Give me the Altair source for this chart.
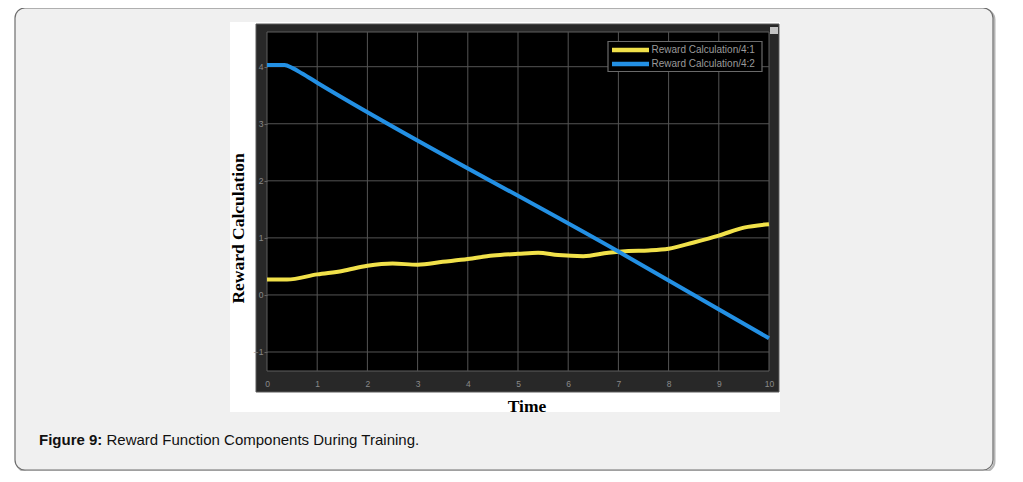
import altair as alt
import pandas as pd

# ---- data ----
series_names = ["Reward Calculation/4:1", "Reward Calculation/4:2"]
series_colors = ["#f1e14a", "#2390e4"]

time_41 = [0, 0.4, 1, 1.5, 2, 2.5, 3, 3.5, 4, 4.5, 5, 5.4, 5.8, 6.3, 6.8, 7.2, 7.6, 8, 8.5, 9, 9.5, 10]
reward_41 = [0.27, 0.27, 0.36, 0.42, 0.51, 0.55, 0.53, 0.58, 0.63, 0.69, 0.72, 0.74, 0.70, 0.68,
             0.74, 0.77, 0.78, 0.81, 0.92, 1.04, 1.18, 1.24]

time_42 = [0, 0.35, 0.5, 0.7, 1, 7, 10]
reward_42 = [4.03, 4.03, 3.98, 3.88, 3.72, 0.76, -0.76]

x_ticks = [0, 1, 2, 3, 4, 5, 6, 7, 8, 9, 10]
y_ticks = [-1, 0, 1, 2, 3, 4]

x_title = "Time"
y_title = "Reward Calculation"
caption_bold = "Figure 9:"
caption_rest = "Reward Function Components During Training."

# ---- layout ----
W, H = 502, 339
x_scale = alt.Scale(domain=[0, 10], nice=False, zero=False)
y_scale = alt.Scale(domain=[-1.333, 4.608], nice=False, zero=False)

x_axis = alt.Axis(values=x_ticks, grid=False, domain=False, ticks=False, labelColor="#8a8a8a",
                  labelFontSize=8.5, labelFont="Liberation Sans", labelPadding=8, title=None,
                  zindex=1, labelFlush=False)
y_axis = alt.Axis(values=y_ticks, grid=False, domain=False, ticks=True, tickSize=3,
                  tickColor="#666666", labelColor="#8a8a8a", labelFontSize=8.5,
                  labelFont="Liberation Sans", labelPadding=1, title=None, zindex=1)

lines_df = pd.DataFrame({
    "time": time_41 + time_42,
    "reward": reward_41 + reward_42,
    "series": [series_names[0]] * len(time_41) + [series_names[1]] * len(time_42),
})
one = pd.DataFrame({"a": [0]})


def box(x1, x2, y1, y2, **kw):
    return alt.Chart(one).mark_rect(**kw).encode(
        x=alt.value(x1), x2=alt.value(x2), y=alt.value(y1), y2=alt.value(y2))


def label(txt, x, y, **kw):
    return alt.Chart(one).mark_text(text=txt, **kw).encode(x=alt.value(x), y=alt.value(y))


shadow = box(-250.5, 727.5, -22.5, 439.5, fill="#f0f0f0", stroke="#b5b5b5", strokeWidth=2, cornerRadius=10)
page_box = box(-252, 726, -24, 438, fill="#f0f0f0", stroke="#6e6e6e", strokeWidth=1.2, cornerRadius=10)
white = box(-37, 513, -10, 380, fill="white")
frame = box(-11, 512, -8, 360, fill="#282828", stroke="#5a5a5a", strokeWidth=1)
icon = box(503, 511, -5, 2, fill="#c4c4c4")
plot_bg = box(0, W, 0, H, fill="black", stroke="#5e5e5e", strokeWidth=1)

vgrid = alt.Chart(pd.DataFrame({"gx": x_ticks[1:-1]})).mark_rule(color="#545454", strokeWidth=1).encode(
    x=alt.X("gx:Q", scale=x_scale, axis=x_axis), y=alt.value(0), y2=alt.value(H))
hgrid = alt.Chart(pd.DataFrame({"gy": y_ticks})).mark_rule(color="#545454", strokeWidth=1).encode(
    y=alt.Y("gy:Q", scale=y_scale, axis=y_axis), x=alt.value(0), x2=alt.value(W))

lines = alt.Chart(lines_df).mark_line(strokeWidth=4, interpolate="monotone").encode(
    x=alt.X("time:Q", scale=x_scale, axis=x_axis),
    y=alt.Y("reward:Q", scale=y_scale, axis=y_axis),
    color=alt.Color("series:N", scale=alt.Scale(domain=series_names, range=series_colors), legend=None),
    detail="series:N",
)

# legend drawn by hand, Simulink-scope style
leg_box = box(341, 495, 9.5, 39.5, fill="black", stroke="#6a6a6a", strokeWidth=1.2)
leg_parts = [leg_box]
for i, (nm, col) in enumerate(zip(series_names, series_colors)):
    yy = 18 + 14 * i
    leg_parts.append(alt.Chart(one).mark_rule(color=col, strokeWidth=4.5).encode(
        x=alt.value(345), x2=alt.value(382), y=alt.value(yy)))
    leg_parts.append(label(nm, 384.5, yy, align="left", baseline="middle", fontSize=10,
                           font="Liberation Sans", color="#9a9a9a"))

ytitle = label(y_title, -28, 196.5, angle=270, align="center", baseline="middle", fontSize=17.5,
               font="Liberation Serif", fontWeight="bold", color="black")
xtitle = label(x_title, 260, 380, align="center", baseline="alphabetic", fontSize=17.5,
               font="Liberation Serif", fontWeight="bold", color="black")
cap1 = label(caption_bold, -228, 412.5, align="left", baseline="alphabetic", fontSize=15,
             font="Liberation Sans", fontWeight="bold", color="#111111")
cap2 = label(caption_rest, -228 + 67.5, 412.5, align="left", baseline="alphabetic", fontSize=15,
             font="Liberation Sans", color="#111111")

chart = alt.layer(
    shadow, page_box, white, frame, icon, plot_bg, vgrid, hgrid, lines, *leg_parts,
    ytitle, xtitle, cap1, cap2,
).properties(
    width=W, height=H,
    autosize=alt.AutoSizeParams(type="none"),
    padding={"left": 259, "top": 24, "right": 240, "bottom": 100},
).configure_view(stroke=None)

chart.save("out.html", embed_options={"renderer": "svg", "actions": False})
